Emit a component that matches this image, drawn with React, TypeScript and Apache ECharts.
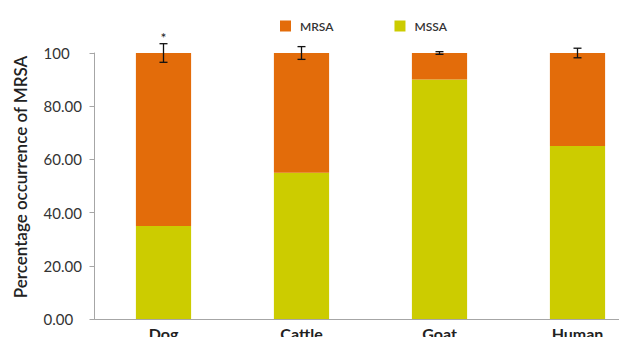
import React, { useEffect, useRef } from "react";
import * as echarts from "echarts";

const categories = ["Dog", "Cattle", "Goat", "Human"];
const mssaValues = [35, 55, 90, 65];
const mrsaValues = [65, 45, 10, 35];
const errorHalf = [3.5, 2.4, 0.5, 1.8];
const annotations = ["*", "", "", ""];
const yTicks = [0, 20, 40, 60, 80, 100];
const yTitle = "Percentage occurrence of MRSA";

const FONT = "Lato, 'Open Sans', sans-serif";

export default function App() {
  const ref = useRef<HTMLDivElement>(null);
  useEffect(() => {
    if (!ref.current) return;
    const chart = echarts.init(ref.current, null, { renderer: "svg" });
    const totals = mssaValues.map((v, i) => v + mrsaValues[i]);
    const errData = categories.map((_, i) => [i, totals[i] - errorHalf[i], totals[i] + errorHalf[i], i]);
    chart.setOption({
      animation: false,
      backgroundColor: "#ffffff",
      textStyle: { fontFamily: FONT },
      legend: {
        left: 275,
        top: 15,
        itemWidth: 11,
        itemHeight: 11,
        itemGap: 61,
        icon: "rect",
        data: ["MRSA", "MSSA"],
        textStyle: { fontSize: 12, fontWeight: 600, color: "#333", fontFamily: FONT, padding: [0, 0, 0, 4] },
      },
      graphic: [
        {
          type: "text",
          x: 20,
          y: 177,
          rotation: Math.PI / 2,
          style: {
            text: yTitle,
            align: "center",
            verticalAlign: "middle",
            fontSize: 17,
            fontWeight: 600,
            fill: "#222",
            fontFamily: FONT,
          },
        },
      ],
      grid: {
        left: 94.5,
        right: 3.5,
        top: 53,
        bottom: 18,
        containLabel: false,
        outerBoundsMode: "none",
      },
      xAxis: {
        type: "category",
        data: categories,
        axisTick: { show: false },
        axisLine: { lineStyle: { color: "#a6a6a6", width: 1 } },
        axisLabel: { fontSize: 16, fontWeight: "bold", color: "#222", margin: 6, fontFamily: FONT },
      },
      yAxis: {
        type: "value",
        min: yTicks[0],
        max: yTicks[yTicks.length - 1],
        interval: 20,
        axisLine: { show: true, lineStyle: { color: "#a6a6a6", width: 1 } },
        axisTick: { show: true, length: 5, lineStyle: { color: "#a6a6a6" } },
        splitLine: { show: false },
        axisLabel: {
          fontSize: 15,
          color: "#333",
          margin: 51,
          align: "left",
          fontFamily: FONT,
          formatter: (v: number) => (v === 100 ? "100" : v.toFixed(2)),
        },
      },
      series: [
        {
          name: "MSSA",
          type: "bar",
          stack: "total",
          barWidth: "40%",
          itemStyle: { color: "#cccc00" },
          data: mssaValues,
        },
        {
          name: "MRSA",
          type: "bar",
          stack: "total",
          barWidth: "40%",
          itemStyle: { color: "#e36c0a" },
          data: mrsaValues,
        },
        {
          type: "custom",
          name: "err",
          z: 10,
          data: errData,
          renderItem: (params: any, api: any) => {
            const x = api.value(0);
            const lo = api.coord([x, api.value(1)]);
            const hi = api.coord([x, api.value(2)]);
            const idx = api.value(3);
            const cap = 4;
            const style = { stroke: "#111", lineWidth: 1.3 };
            const children: any[] = [
              { type: "line", shape: { x1: lo[0], y1: lo[1], x2: hi[0], y2: hi[1] }, style },
              { type: "line", shape: { x1: lo[0] - cap, y1: lo[1], x2: lo[0] + cap, y2: lo[1] }, style },
              { type: "line", shape: { x1: hi[0] - cap, y1: hi[1], x2: hi[0] + cap, y2: hi[1] }, style },
            ];
            const ann = annotations[idx];
            if (ann) {
              children.push({
                type: "text",
                style: {
                  text: ann,
                  x: hi[0],
                  y: hi[1] + 1,
                  align: "center",
                  verticalAlign: "bottom",
                  fontSize: 14,
                  fill: "#222",
                  fontFamily: FONT,
                },
              });
            }
            return { type: "group", children };
          },
        },
      ],
    });
    return () => chart.dispose();
  }, []);
  return (
    <div style={{ position: "absolute", left: 0, top: 0, width: 619, height: 337, overflow: "hidden" }}>
      <div ref={ref} style={{ width: 650, height: 337 }} />
    </div>
  );
}
